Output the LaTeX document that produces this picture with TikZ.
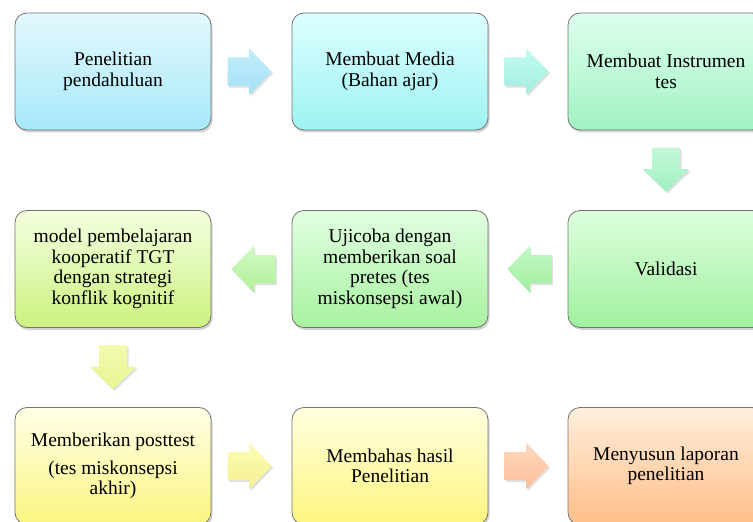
\documentclass[tikz,border=0pt]{standalone}
\usepackage{fontspec}
\setmainfont{Liberation Serif}
\usetikzlibrary{calc}
\usetikzlibrary{shadows}
\usetikzlibrary{shapes.arrows}

\begin{document}
\begin{tikzpicture}[x=1bp,y=-1bp,
  box/.style = {rounded corners=12bp, draw=black!55, line width=0.8bp,
    minimum width=196bp, minimum height=117bp, align=center, inner sep=0pt,
    font=\fontsize{19.5bp}{20.5bp}\selectfont,
    drop shadow={shadow xshift=1.5bp, shadow yshift=-2.5bp, opacity=0.35}},
  flow/.style = {single arrow, draw=none, minimum width=46bp, minimum height=44bp,
    single arrow head extend=9bp, single arrow tip angle=92, inner xsep=0pt, inner ysep=14bp,
    anchor=tail, drop shadow={shadow xshift=1.5bp, shadow yshift=-2bp, opacity=0.25}},
  flowdown/.style = {flow, shape border rotate=270, inner xsep=14bp, inner ysep=0pt},
  flowleft/.style = {flow, shape border rotate=180}]
\useasboundingbox (0,0) rectangle (753,522);
\node[box, top color={rgb,255:red,228;green,248;blue,253}, bottom color={rgb,255:red,166;green,233;blue,250}] (pen) at (113,71.5) {Penelitian\\pendahuluan};
\node[box, top color={rgb,255:red,221;green,255;blue,255}, bottom color={rgb,255:red,158;green,242;blue,242}] (media) at (390,71.5) {Membuat Media\\(Bahan ajar)};
\node[box, top color={rgb,255:red,221;green,255;blue,238}, bottom color={rgb,255:red,162;green,242;blue,194}] (instr) at (666,71.5) {Membuat Instrumen\\tes};
\node[box, top color={rgb,255:red,221;green,255;blue,221}, bottom color={rgb,255:red,160;green,240;blue,160}] (val) at (666,269) {Validasi};
\node[box, top color={rgb,255:red,224;green,255;blue,224}, bottom color={rgb,255:red,168;green,242;blue,160}] (uji) at (390,269) {Ujicoba dengan\\memberikan soal\\pretes (tes\\miskonsepsi awal)};
\node[box, top color={rgb,255:red,244;green,255;blue,224}, bottom color={rgb,255:red,204;green,242;blue,128}] (model) at (113,269) {model pembelajaran\\kooperatif TGT\\dengan strategi\\konflik kognitif};
\node[box, top color={rgb,255:red,255;green,255;blue,232}, bottom color={rgb,255:red,250;green,245;blue,128}] (post) at (113,466) {Memberikan posttest\\[7bp](tes miskonsepsi\\akhir)};
\node[box, top color={rgb,255:red,255;green,255;blue,224}, bottom color={rgb,255:red,255;green,245;blue,128}] (bahas) at (390,466) {Membahas hasil\\Penelitian};
\node[box, top color={rgb,255:red,255;green,238;blue,221}, bottom color={rgb,255:red,255;green,190;blue,136}] (lap) at (666,466) {Menyusun laporan\\penelitian};

\node[flow, top color={rgb,255:red,196;green,238;blue,251}, bottom color={rgb,255:red,164;green,224;blue,246}] (a1) at ($(pen.east)+(16,0)$) {};
\node[flow, top color={rgb,255:red,196;green,250;blue,240}, bottom color={rgb,255:red,160;green,238;blue,224}] (a2) at ($(media.east)+(16,0)$) {};
\node[flowdown, top color={rgb,255:red,196;green,248;blue,216}, bottom color={rgb,255:red,160;green,240;blue,192}] (a3) at ($(instr.south)+(0,17)$) {};
\node[flowleft, top color={rgb,255:red,196;green,248;blue,196}, bottom color={rgb,255:red,160;green,240;blue,160}] (a4) at ($(val.west)+(-16,0)$) {};
\node[flowleft, top color={rgb,255:red,210;green,250;blue,196}, bottom color={rgb,255:red,176;green,240;blue,150}] (a5) at ($(uji.west)+(-16,0)$) {};
\node[flowdown, top color={rgb,255:red,244;green,250;blue,176}, bottom color={rgb,255:red,232;green,244;blue,144}] (a6) at ($(model.south)+(0,17)$) {};
\node[flow, top color={rgb,255:red,252;green,252;blue,184}, bottom color={rgb,255:red,244;green,240;blue,144}] (a7) at ($(post.east)+(16,0)$) {};
\node[flow, top color={rgb,255:red,255;green,216;blue,192}, bottom color={rgb,255:red,255;green,190;blue,152}] (a8) at ($(bahas.east)+(16,0)$) {};
\end{tikzpicture}
\end{document}
